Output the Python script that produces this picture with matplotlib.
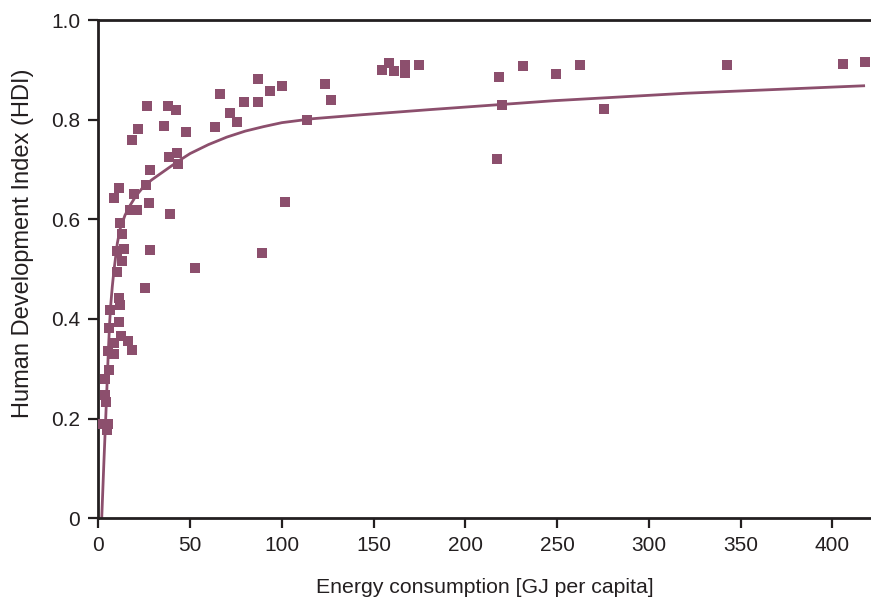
import matplotlib
matplotlib.use("Agg")
import matplotlib.pyplot as plt
from matplotlib.ticker import FuncFormatter

# Scatter data: energy consumption (GJ per capita) vs HDI
energy = [2.2, 5.5, 4.9, 4.4, 3.8, 3.8, 6.0, 5.5, 8.7, 18.5,
          8.7, 16.4, 12.5, 6.0, 11.4, 6.5, 12.0, 11.4, 25.6, 10.4,
          52.9, 13.1, 89.4, 10.4, 13.8, 28.3, 13.1, 12.0, 101.9, 27.8,
          39.2, 17.4, 21.3, 19.7, 8.7, 11.4, 26.2, 28.3, 43.6, 38.7,
          43.1, 18.5, 21.8, 36.0, 48.0, 26.7, 38.2, 42.5, 63.8, 66.5,
          71.9, 75.8, 79.4, 87.2, 87.2, 93.7, 100.3, 113.9, 123.7, 127.0,
          154.8, 158.6, 161.3, 167.3, 167.3, 174.9, 217.4, 218.5, 220.2, 231.6,
          249.6, 262.7, 275.7, 342.8, 406.0, 418.0]
hdi = [0.190, 0.190, 0.178, 0.234, 0.248, 0.279, 0.297, 0.335, 0.329, 0.337,
       0.351, 0.355, 0.365, 0.381, 0.393, 0.419, 0.429, 0.443, 0.463, 0.495,
       0.503, 0.517, 0.533, 0.537, 0.541, 0.539, 0.571, 0.593, 0.635, 0.633,
       0.611, 0.619, 0.619, 0.651, 0.643, 0.663, 0.669, 0.699, 0.711, 0.725,
       0.733, 0.760, 0.782, 0.788, 0.776, 0.828, 0.828, 0.820, 0.786, 0.852,
       0.814, 0.796, 0.836, 0.882, 0.836, 0.858, 0.868, 0.800, 0.872, 0.840,
       0.900, 0.914, 0.898, 0.910, 0.894, 0.910, 0.721, 0.886, 0.830, 0.908,
       0.892, 0.910, 0.822, 0.910, 0.912, 0.916]

# Trend line
curve_x = [1.85, 3.0, 4.2, 5.45, 6.2, 6.8, 7.6, 8.5, 9.1, 10.35,
           11.8, 14.5, 17.3, 20.5, 24.5, 29.0, 33.6, 39.0, 44.5, 50.0,
           60.0, 70.0, 80.0, 90.0, 100.0, 117.0, 144.0, 180.0, 248.0, 320.0,
           417.0]
curve_y = [0.0, 0.11, 0.217, 0.335, 0.395, 0.43, 0.465, 0.497, 0.515, 0.552,
           0.580, 0.608, 0.628, 0.647, 0.665, 0.679, 0.691, 0.705, 0.719, 0.732,
           0.750, 0.765, 0.777, 0.786, 0.794, 0.802, 0.810, 0.820, 0.838, 0.853,
           0.868]

x_ticks = [0, 50, 100, 150, 200, 250, 300, 350, 400]
y_ticks = [0, 0.2, 0.4, 0.6, 0.8, 1.0]

col = '#8C4F6D'
dark = '#231F20'
plt.rcParams['font.family'] = ['Liberation Sans', 'DejaVu Sans']

fig = plt.figure(figsize=(8.71, 5.99), dpi=100)
ax = fig.add_axes([0.1129, 0.1347, 0.8871, 0.8319])

ax.plot(curve_x, curve_y, color=col, linewidth=2.0, zorder=2)
ax.scatter(energy, hdi, marker='s', s=46, color=col, linewidths=0, zorder=3)

ax.set_xlim(0, 421)
ax.set_ylim(0, 1.0)
ax.set_xticks(x_ticks)
ax.set_yticks(y_ticks)
ax.yaxis.set_major_formatter(FuncFormatter(lambda v, p: '0' if v == 0 else f'{v:.1f}'))

for side in ['left', 'bottom', 'top']:
    ax.spines[side].set_linewidth(2.0)
    ax.spines[side].set_color(dark)
ax.spines['right'].set_visible(False)

ax.tick_params(axis='both', direction='out', length=7, width=1.6, color=dark,
               labelsize=15, labelcolor=dark, pad=6)

ax.set_xlabel('Energy consumption [GJ per capita]', fontsize=15.3, color=dark, labelpad=16)
ax.set_ylabel('Human Development Index (HDI)', fontsize=17, color=dark)
ax.yaxis.set_label_coords(-0.083, 0.552)

fig.savefig('out.png', dpi=100)
